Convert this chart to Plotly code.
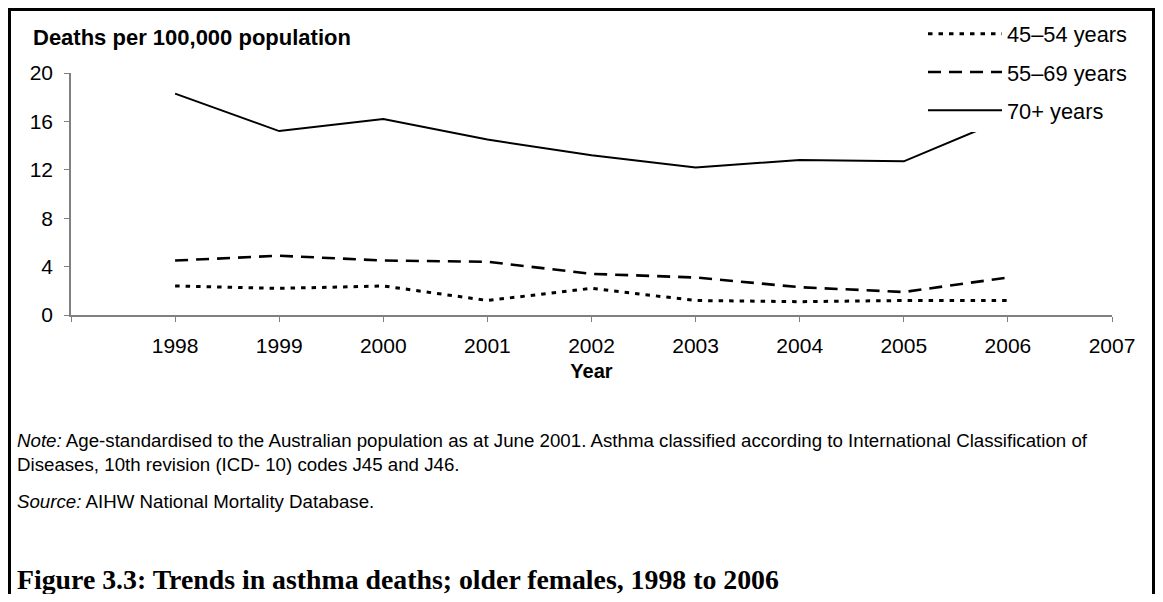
import plotly.graph_objects as go

years = [1998, 1999, 2000, 2001, 2002, 2003, 2004, 2005, 2006]
series_names = ["45–54 years", "55–69 years", "70+ years"]
v45_54 = [2.4, 2.2, 2.4, 1.2, 2.2, 1.2, 1.1, 1.2, 1.2]
v55_69 = [4.5, 4.9, 4.5, 4.4, 3.4, 3.1, 2.3, 1.9, 3.1]
v70p = [18.3, 15.2, 16.2, 14.5, 13.2, 12.2, 12.8, 12.7, 16.3]
x_ticks = list(range(1997, 2008))
x_ticklabels = [""] + [str(y) for y in range(1998, 2008)]
y_ticks = [0, 4, 8, 12, 16, 20]

# the page body adds an 8px margin; figure sized to fit the window
W, H = 1147, 586
OFF = 8
L, R, T, B = 71 - OFF, W - (1112 - OFF), 73 - OFF, H - (315 - OFF)
PW, PH = W - L - R, H - T - B

def px(xp):  # page pixel -> paper x
    return (xp - OFF - L) / PW

def py(yp):  # page pixel -> paper y
    return 1 - (yp - OFF - T) / PH

FONT = "Liberation Sans, Arial, sans-serif"
AX = "#808080"

fig = go.Figure()
styles = [("4.5px,6px", 3), ("13px,8px", 2.6), ("solid", 2)]
for name, vals, (dash, w) in zip(series_names, [v45_54, v55_69, v70p], styles):
    fig.add_trace(go.Scatter(
        x=years, y=vals, name=name, mode="lines",
        line=dict(color="black", width=w, dash=dash),
        legendgroup=name, cliponaxis=False,
    ))

fig.update_layout(
    width=W, height=H,
    margin=dict(l=L, r=R, t=T, b=B, autoexpand=False),
    paper_bgcolor="white", plot_bgcolor="white",
    font=dict(family=FONT, size=21, color="black"),
    showlegend=True,
    legend=dict(
        x=px(923), y=py(13), xanchor="left", yanchor="top",
        bgcolor="white", borderwidth=0,
        font=dict(family=FONT, size=21.8, color="black"),
        tracegroupgap=7, itemwidth=74,
        traceorder="grouped",
    ),
    xaxis=dict(
        range=[1997, 2007], tickmode="array", tickvals=x_ticks, ticktext=x_ticklabels,
        showgrid=False, zeroline=False, showline=True, linecolor=AX, linewidth=1.5,
        ticks="outside", ticklen=5, tickcolor=AX, tickwidth=1,
        tickfont=dict(family=FONT, size=21), ticklabelstandoff=6,
        title=dict(text="<b>Year</b>", font=dict(family=FONT, size=20), standoff=8),
    ),
    yaxis=dict(
        range=[0, 20], tickmode="array", tickvals=y_ticks,
        showgrid=False, zeroline=False, showline=True, linecolor=AX, linewidth=1.5,
        ticks="outside", ticklen=5, tickcolor=AX, tickwidth=1,
        tickfont=dict(family=FONT, size=21), ticklabelstandoff=7,
    ),
)

fig.add_annotation(
    text="<b>Deaths per 100,000 population</b>", xref="paper", yref="paper",
    x=px(31), y=py(38), xanchor="left", yanchor="middle", showarrow=False,
    font=dict(family=FONT, size=22),
)
fig.add_annotation(
    text="<i>Note:</i> Age-standardised to the Australian population as at June 2001. Asthma classified according to International Classification of<br>Diseases, 10th revision (ICD- 10) codes J45 and J46.",
    xref="paper", yref="paper", x=px(15), y=py(428), xanchor="left", yanchor="top",
    align="left", showarrow=False, font=dict(family=FONT, size=18.7),
)
fig.add_annotation(
    text="<i>Source:</i> AIHW National Mortality Database.",
    xref="paper", yref="paper", x=px(15), y=py(501), xanchor="left", yanchor="middle",
    align="left", showarrow=False, font=dict(family=FONT, size=18.7),
)
fig.add_annotation(
    text="<b>Figure 3.3: Trends in asthma deaths; older females, 1998 to 2006</b>",
    xref="paper", yref="paper", x=px(15), y=py(579), xanchor="left", yanchor="middle",
    align="left", showarrow=False,
    font=dict(family="Liberation Serif, DejaVu Serif, serif", size=27.8),
)
fig.add_shape(
    type="rect", xref="paper", yref="paper",
    x0=px(9.5), x1=px(OFF + W - 1.5), y0=py(640), y1=py(9.5),
    line=dict(color="black", width=3), fillcolor="rgba(0,0,0,0)", layer="above",
)

fig.write_html("out.html")
